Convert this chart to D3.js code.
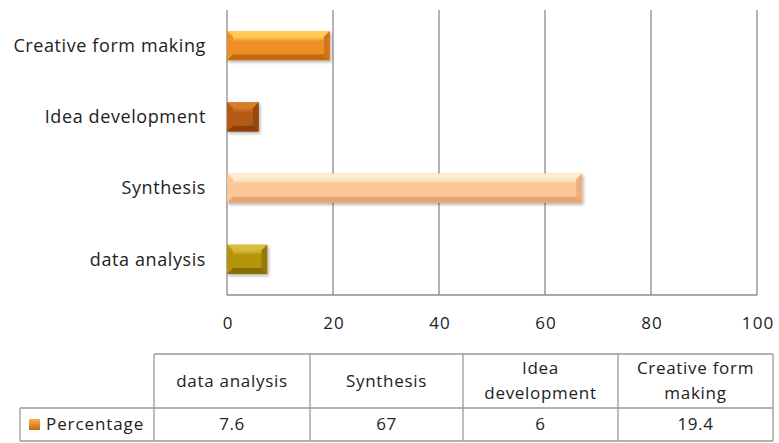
<!DOCTYPE html>
<html>
<head>
<meta charset="utf-8">
<script src="https://cdn.jsdelivr.net/npm/d3@7/dist/d3.min.js"></script>
<style>
  html, body { margin: 0; padding: 0; background: #fff; }
  svg { display: block; }
  text { font-family: "Open Sans", Lato, sans-serif; fill: #222; }
</style>
</head>
<body>
<script>
// Category order as listed in the data table (bottom bar to top bar)
const categories = ["data analysis", "Synthesis", "Idea development", "Creative form making"];
const values = [7.6, 67, 6, 19.4];
const seriesName = "Percentage";
const xTicks = [0, 20, 40, 60, 80, 100];
// Table header lines for each column
const headerLines = [["data analysis"], ["Synthesis"], ["Idea", "development"], ["Creative form", "making"]];
// Base / light / dark tones per bar
const barColors = [
  { base: "#b5930a", light: "#d9bd3a", dark: "#8a6e05" },
  { base: "#fcc698", light: "#ffeccc", dark: "#e8a574" },
  { base: "#b45a12", light: "#d97c2c", dark: "#8a400a" },
  { base: "#f08e26", light: "#ffc958", dark: "#c46a12" }
];

const W = 779, H = 443;
const plot = { left: 227, right: 757, top: 10, bottom: 295 };

const svg = d3.select("body").append("svg").attr("width", W).attr("height", H);
const defs = svg.append("defs");

const x = d3.scaleLinear().domain([0, 100]).range([plot.left, plot.right]);
const y = d3.scaleBand().domain(categories.slice().reverse()).range([plot.top, plot.bottom]).paddingInner(0.59).paddingOuter(0.295);

// Vertical gridlines
svg.append("g").selectAll("line").data(xTicks).join("line")
  .attr("x1", d => x(d)).attr("x2", d => x(d))
  .attr("y1", plot.top).attr("y2", plot.bottom)
  .attr("stroke", "#8c8c8c").attr("stroke-width", 1.3);

// Bottom axis line
svg.append("line")
  .attr("x1", plot.left).attr("x2", plot.right)
  .attr("y1", plot.bottom).attr("y2", plot.bottom)
  .attr("stroke", "#8c8c8c").attr("stroke-width", 1.3);

// Tick labels
const xAxis = d3.axisBottom(x).tickValues(xTicks).tickSize(0).tickPadding(22);
const gx = svg.append("g").attr("transform", `translate(0,${plot.bottom})`).call(xAxis);
gx.select(".domain").remove();
gx.selectAll("text").attr("font-size", 17).attr("font-family", "'Open Sans', sans-serif")
  .attr("letter-spacing", 1.2).attr("dx", 0.6).attr("fill", "#222");

// Drop shadow filter
const f = defs.append("filter").attr("id", "shadow").attr("x", "-10%").attr("y", "-20%").attr("width", "130%").attr("height", "160%");
f.append("feDropShadow").attr("dx", 1.5).attr("dy", 2).attr("stdDeviation", 1.6).attr("flood-color", "#000").attr("flood-opacity", 0.3);

// Bars with beveled faces
const bars = svg.append("g").selectAll("g.bar").data(categories.map((c, i) => ({ c, v: values[i], col: barColors[i], i }))).join("g").attr("class", "bar");

bars.each(function(d) {
  const g = d3.select(this);
  const x0 = x(0), x1 = x(d.v), y0 = y(d.c), h = y.bandwidth();
  const bv = Math.min(6, (x1 - x0) / 3);
  const gid = "grad" + d.i;
  const lg = defs.append("linearGradient").attr("id", gid).attr("x1", 0).attr("y1", 0).attr("x2", 0).attr("y2", 1);
  lg.append("stop").attr("offset", "0%").attr("stop-color", d.col.light);
  lg.append("stop").attr("offset", "25%").attr("stop-color", d.col.base);
  lg.append("stop").attr("offset", "100%").attr("stop-color", d.col.base);
  g.append("rect").attr("x", x0).attr("y", y0).attr("width", x1 - x0).attr("height", h)
    .attr("fill", d.col.base).attr("filter", "url(#shadow)");
  // top bevel
  g.append("path").attr("d", `M${x0},${y0}L${x1},${y0}L${x1 - bv},${y0 + bv}L${x0 + bv},${y0 + bv}Z`).attr("fill", d.col.light);
  // bottom bevel
  g.append("path").attr("d", `M${x0},${y0 + h}L${x1},${y0 + h}L${x1 - bv},${y0 + h - bv}L${x0 + bv},${y0 + h - bv}Z`).attr("fill", d.col.dark);
  // left bevel
  g.append("path").attr("d", `M${x0},${y0}L${x0 + bv},${y0 + bv}L${x0 + bv},${y0 + h - bv}L${x0},${y0 + h}Z`).attr("fill", d.col.base).attr("opacity", 0.9);
  // right bevel
  g.append("path").attr("d", `M${x1},${y0}L${x1 - bv},${y0 + bv}L${x1 - bv},${y0 + h - bv}L${x1},${y0 + h}Z`).attr("fill", d.col.dark).attr("opacity", 0.7);
  // face
  g.append("rect").attr("x", x0 + bv).attr("y", y0 + bv).attr("width", Math.max(0, x1 - x0 - 2 * bv)).attr("height", h - 2 * bv)
    .attr("fill", `url(#${gid})`);
});

// Category labels
svg.append("g").selectAll("text").data(categories).join("text")
  .attr("x", 206).attr("y", d => y(d) + y.bandwidth() / 2)
  .attr("dy", "0.35em").attr("text-anchor", "end").attr("font-size", 18)
  .attr("letter-spacing", 0.6)
  .text(d => d);

// Data table
const colEdges = [20, 154, 310, 463, 618, 773];
const rowTop = 354, rowMid = 408, rowBot = 441;
const tbl = svg.append("g").attr("stroke", "#999").attr("stroke-width", 1.3).attr("fill", "none");
tbl.append("line").attr("x1", colEdges[1]).attr("x2", colEdges[5]).attr("y1", rowTop).attr("y2", rowTop);
tbl.append("line").attr("x1", colEdges[0]).attr("x2", colEdges[5]).attr("y1", rowMid).attr("y2", rowMid);
tbl.append("line").attr("x1", colEdges[0]).attr("x2", colEdges[5]).attr("y1", rowBot).attr("y2", rowBot);
tbl.append("line").attr("x1", colEdges[0]).attr("x2", colEdges[0]).attr("y1", rowMid).attr("y2", rowBot);
colEdges.slice(1).forEach(cx => {
  tbl.append("line").attr("x1", cx).attr("x2", cx).attr("y1", rowTop).attr("y2", rowBot);
});

// Header text
headerLines.forEach((lines, i) => {
  const cx = (colEdges[i + 1] + colEdges[i + 2]) / 2;
  const cy = (rowTop + rowMid) / 2;
  const lh = 25;
  lines.forEach((ln, k) => {
    svg.append("text").attr("x", cx).attr("y", cy + (k - (lines.length - 1) / 2) * lh)
      .attr("dy", "0.35em").attr("text-anchor", "middle").attr("font-size", 17)
      .attr("letter-spacing", 0.7).text(ln);
  });
});

// Value row
values.forEach((v, i) => {
  const cx = (colEdges[i + 1] + colEdges[i + 2]) / 2;
  svg.append("text").attr("x", cx).attr("y", (rowMid + rowBot) / 2)
    .attr("dy", "0.35em").attr("text-anchor", "middle").attr("font-size", 17)
    .attr("letter-spacing", 0.6).text(v);
});

// Legend key in the table
const lgd = defs.append("linearGradient").attr("id", "keygrad").attr("x1", 0).attr("y1", 0).attr("x2", 0).attr("y2", 1);
lgd.append("stop").attr("offset", "0%").attr("stop-color", "#f7b24a");
lgd.append("stop").attr("offset", "100%").attr("stop-color", "#c86a10");
svg.append("rect").attr("x", 29).attr("y", 419).attr("width", 11).attr("height", 11).attr("fill", "url(#keygrad)");
svg.append("text").attr("x", 46).attr("y", (rowMid + rowBot) / 2).attr("dy", "0.35em")
  .attr("font-size", 17).attr("letter-spacing", 0.9).text(seriesName);
</script>
</body>
</html>
